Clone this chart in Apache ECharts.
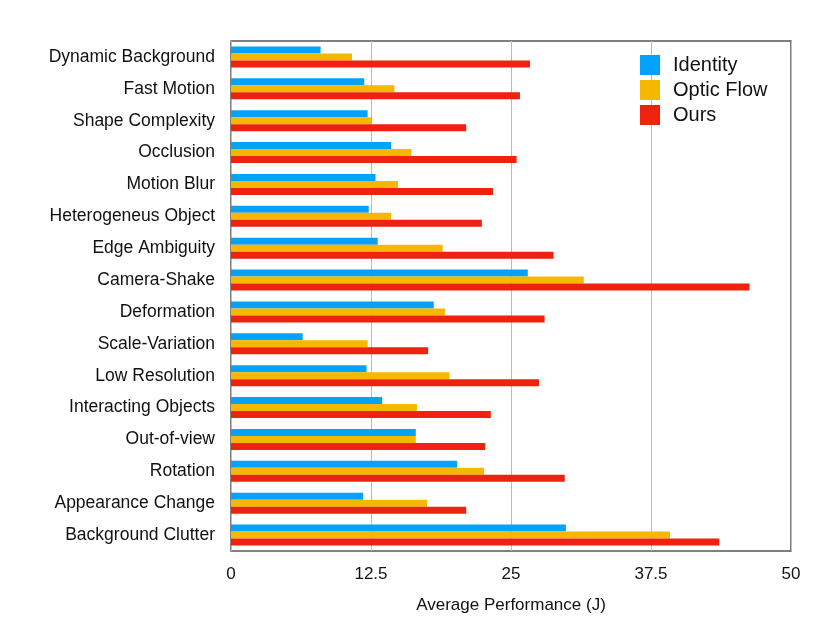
<!DOCTYPE html>
<html lang="en">
<head>
<meta charset="UTF-8">
<title>Average Performance</title>
</head>
<body style="margin: 0; background: #fff">
<div id="container" style="width: 830px; height: 623px"></div>
<script src="https://cdn.jsdelivr.net/npm/echarts@6/dist/echarts.min.js"></script>
<script type="text/javascript">
    // categories, top to bottom
    var categories = ['Dynamic Background', 'Fast Motion', 'Shape Complexity', 'Occlusion', 'Motion Blur',
        'Heterogeneus Object', 'Edge Ambiguity', 'Camera-Shake', 'Deformation', 'Scale-Variation',
        'Low Resolution', 'Interacting Objects', 'Out-of-view', 'Rotation', 'Appearance Change',
        'Background Clutter'];

    var identity = [8.0, 11.9, 12.2, 14.3, 12.9, 12.3, 13.1, 26.5, 18.1, 6.4, 12.1, 13.5, 16.5, 20.2, 11.8, 29.9];
    var opticFlow = [10.8, 14.6, 12.6, 16.1, 14.9, 14.3, 18.9, 31.5, 19.1, 12.2, 19.5, 16.6, 16.5, 22.6, 17.5, 39.2];
    var ours = [26.7, 25.8, 21.0, 25.5, 23.4, 22.4, 28.8, 46.3, 28.0, 17.6, 27.5, 23.2, 22.7, 29.8, 21.0, 43.6];

    var xTicks = [0, 12.5, 25, 37.5, 50];

    var font = 'Liberation Sans, Arial, sans-serif';
    var myChart = echarts.init(document.getElementById('container'));

    function barSeries(name, data, color) {
        return {
            name: name,
            type: 'bar',
            data: data,
            barWidth: 7,
            barGap: '0%',
            itemStyle: {color: color},
            animation: false
        };
    }

    var option = {
        backgroundColor: '#fff',
        textStyle: {fontFamily: font},
        grid: {
            left: 231, right: 39, top: 41, bottom: 72,
            show: true, borderColor: '#555', borderWidth: 1.5
        },
        legend: {
            orient: 'vertical',
            left: 640, top: 55,
            padding: 0,
            itemWidth: 20, itemHeight: 20, itemGap: 5,
            icon: 'rect',
            textStyle: {fontSize: 20, color: '#111', fontFamily: font, padding: [4, 0, 0, 8]},
            data: ['Identity', 'Optic Flow', 'Ours']
        },
        xAxis: {
            type: 'value',
            min: 0, max: 50, interval: 12.5,
            name: 'Average Performance (J)',
            nameLocation: 'middle',
            nameGap: 46,
            nameTextStyle: {fontSize: 17, color: '#111'},
            axisLine: {show: false},
            axisTick: {show: false},
            axisLabel: {
                fontSize: 17, color: '#111', margin: 15,
                formatter: function (v) { return xTicks.indexOf(v) >= 0 ? String(v) : ''; }
            },
            splitLine: {lineStyle: {color: '#bbb', width: 1}}
        },
        yAxis: {
            type: 'category',
            data: categories,
            inverse: true,
            axisLine: {show: false},
            axisTick: {show: false},
            axisLabel: {fontSize: 17.5, color: '#111', margin: 16, padding: [4, 0, 0, 0]}
        },
        series: [
            barSeries('Identity', identity, '#04a2fa'),
            barSeries('Optic Flow', opticFlow, '#f5b700'),
            barSeries('Ours', ours, '#ee220e')
        ]
    };
    myChart.setOption(option);
</script>
</body>
</html>
